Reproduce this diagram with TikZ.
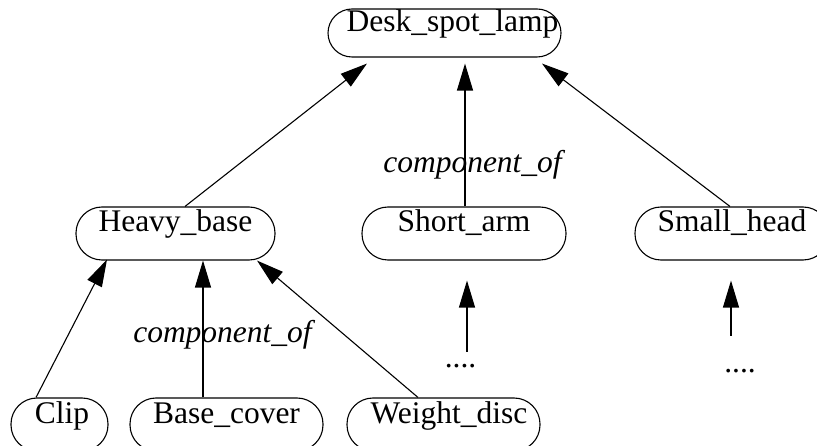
\documentclass[tikz,border=0pt]{standalone}
\usepackage{fontspec}
\setmainfont{Liberation Serif}
\usetikzlibrary{arrows.meta,calc}
\tikzset{
  box/.style={draw, line width=1.1pt, rectangle, rounded corners=26pt, minimum height=53pt, inner sep=0pt, text height=25pt, text depth=28pt, font=\fontsize{31.5}{36}\selectfont},
  topbox/.style={box, rounded corners=24pt, minimum height=48pt, text height=23pt, text depth=25pt},
  arr/.style={line width=1.1pt, -{Triangle[length=27pt,width=16pt]}},
  lab/.style={inner sep=0pt, anchor=base, font=\fontsize{31.5}{36}\selectfont\itshape},
  dots/.style={inner sep=0pt, anchor=base, font=\fontsize{31.5}{36}\selectfont}
}
\begin{document}
\begin{tikzpicture}[x=1pt,y=-1pt]
\useasboundingbox (0,0) rectangle (817,446);
\clip (0,0) rectangle (817,446);
\node[topbox, minimum width=233pt] (desk) at (444.5,33) {\hspace{16pt}Desk\_spot\_lamp};
\node[box, minimum width=199pt] (heavy) at (175.5,233.5) {Heavy\_base};
\node[box, minimum width=204pt] (short) at (464,233.5) {Short\_arm};
\node[box, minimum width=194pt] (small) at (732,233.5) {Small\_head};
\node[box, minimum width=97pt] (clip) at (59.5,424.5) {\hspace{5pt}Clip};
\node[box, minimum width=193pt] (basecover) at (226.5,424.5) {Base\_cover};
\node[box, minimum width=193pt] (weight) at (443.5,424.5) {\hspace{11pt}Weight\_disc};
\node[dots] (dotsA) at (460.5,367) {....};
\node[dots] (dotsB) at (740,373) {....};
\coordinate (dAs) at (467,352);
\coordinate (dBs) at (731,336);
\node[lab] (lab1) at (472.5,173) {component\_of};
\node[lab] (lab2) at (222.5,343) {component\_of};
\draw[arr] ($(heavy.north)+(9.5,0)$) -- ($(desk.south)+(-77.5,6)$);
\draw[arr] ($(short.north)+(1,0)$) -- ($(desk.south)+(20.5,6)$);
\draw[arr] ($(small.north)+(-2,0)$) -- ($(desk.south)+(97.5,6)$);
\draw[arr] ($(clip.north)+(-23.5,0)$) -- ($(heavy.south)+(-68.5,-1)$);
\draw[arr] ($(basecover.north)+(-23.5,0)$) -- ($(heavy.south)+(27.5,0)$);
\draw[arr] ($(weight.north)+(-25.5,0)$) -- ($(heavy.south)+(81.5,0)$);
\draw[arr] (dAs) -- ($(short.south)+(3,20)$);
\draw[arr] (dBs) -- ($(small.south)+(-1,20)$);
\end{tikzpicture}
\end{document}
